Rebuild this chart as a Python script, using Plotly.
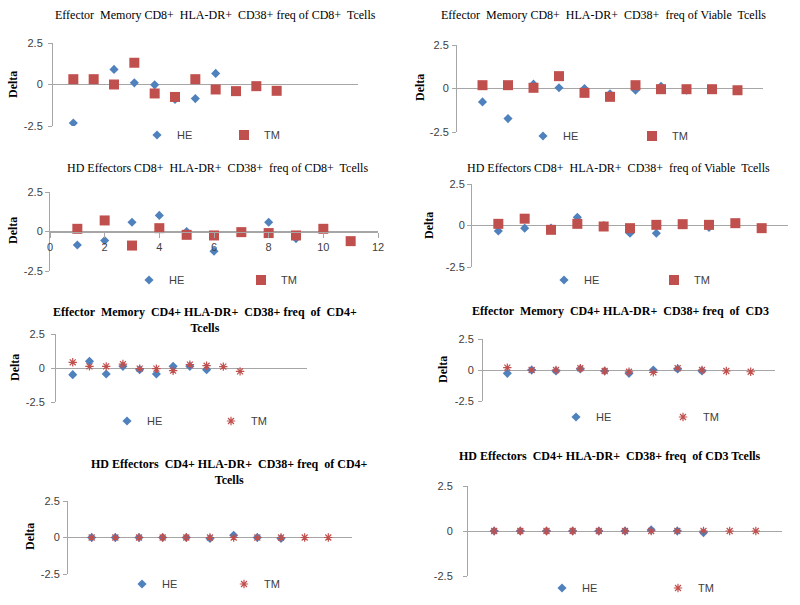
import plotly.graph_objects as go

W, H = 800, 605

# ---------------- data ----------------
he_samples = [1, 2, 3, 4, 5, 6, 7, 8, 9]
tm_samples = [1, 2, 3, 4, 5, 6, 7, 8, 9, 10, 11]

panel_titles = [
    "Effector\u00a0 Memory CD8+\u00a0 HLA-DR+\u00a0 CD38+ freq of CD8+\u00a0 Tcells",
    "Effector\u00a0 Memory CD8+\u00a0 HLA-DR+\u00a0 CD38+\u00a0 freq of Viable\u00a0 Tcells",
    "HD Effectors CD8+\u00a0 HLA-DR+\u00a0 CD38+\u00a0 freq of CD8+\u00a0 Tcells",
    "HD Effectors CD8+\u00a0 HLA-DR+\u00a0 CD38+\u00a0 freq of Viable\u00a0 Tcells",
    "<b>Effector\u00a0 Memory\u00a0 CD4+ HLA-DR+\u00a0 CD38+ freq\u00a0 of\u00a0 CD4+<br>Tcells</b>",
    "<b>Effector\u00a0 Memory\u00a0 CD4+ HLA-DR+\u00a0 CD38+ freq\u00a0 of\u00a0 CD3</b>",
    "<b>HD Effectors\u00a0 CD4+ HLA-DR+\u00a0 CD38+ freq\u00a0 of CD4+<br>Tcells</b>",
    "<b>HD Effectors\u00a0 CD4+ HLA-DR+\u00a0 CD38+ freq\u00a0 of CD3 Tcells</b>",
]
series_names = ["HE", "TM"]
y_tick_vals = [-2.5, 0, 2.5]
y_tick_text = ["-2.5", "0", "2.5"]
x_tick_vals_p3 = [0, 2, 4, 6, 8, 10, 12]

p1_he = [-2.32, 0.35, 0.91, 0.10, -0.02, -0.90, -0.85, 0.67, -0.40]
p1_tm = [0.32, 0.32, 0.00, 1.31, -0.54, -0.75, 0.32, -0.30, -0.40, -0.10, -0.38]

p2_he = [-0.77, -1.73, 0.25, 0.04, 0.00, -0.30, -0.10, 0.13, -0.10]
p2_tm = [0.19, 0.19, 0.04, 0.71, -0.25, -0.48, 0.19, -0.04, -0.04, -0.04, -0.10]

p3_he = [-0.85, -0.57, 0.59, 1.02, 0.00, -1.25, -0.04, 0.59, -0.45]
p3_tm = [0.17, 0.70, -0.89, 0.21, -0.21, -0.25, -0.04, -0.10, -0.25, 0.17, -0.61]

p4_he = [-0.33, -0.16, -0.15, 0.49, 0.00, -0.47, -0.47, 0.05, -0.12]
p4_tm = [0.10, 0.41, -0.26, 0.10, -0.06, -0.16, 0.04, 0.08, 0.04, 0.14, -0.16]

p5_he = [-0.49, 0.49, -0.44, 0.12, -0.12, -0.44, 0.12, 0.12, -0.12]
p5_tm = [0.42, 0.12, 0.12, 0.29, -0.05, -0.05, -0.20, 0.25, 0.17, 0.10, -0.25]

p6_he = [-0.27, 0.00, -0.08, 0.08, -0.08, -0.27, 0.00, 0.08, -0.08]
p6_tm = [0.19, 0.00, 0.00, 0.14, -0.08, -0.14, -0.19, 0.14, 0.00, -0.08, -0.14]

p7_he = [0.00, 0.00, 0.00, 0.00, 0.00, -0.07, 0.15, 0.00, -0.07]
p7_tm = [0.00, 0.00, 0.00, 0.00, 0.00, 0.00, 0.00, 0.00, 0.00, 0.00, 0.00]

p8_he = [0.00, 0.00, 0.00, 0.00, 0.00, 0.00, 0.06, 0.00, -0.09]
p8_tm = [0.00, 0.00, 0.00, 0.00, 0.00, 0.00, 0.00, 0.00, 0.00, 0.00, 0.00]

he_series = [p1_he, p2_he, p3_he, p4_he, p5_he, p6_he, p7_he, p8_he]
tm_series = [p1_tm, p2_tm, p3_tm, p4_tm, p5_tm, p6_tm, p7_tm, p8_tm]

# ---------------- layout (pixels) ----------------
# plot box: left, right, top(2.5), bottom(-2.5); x range max
panels = [
    dict(box=(53, 358, 43, 126), xmax=15, title=(215, 15), delta=(13, 85), leg=(163, 250, 135), stand=3),
    dict(box=(457, 763, 45, 132), xmax=12, title=(603, 15), delta=(420, 88), leg=(549, 658, 136), stand=1),
    dict(box=(50, 378, 192, 271), xmax=12, title=(217, 168), delta=(13, 231), leg=(155, 267, 280), stand=0),
    dict(box=(472, 788, 184, 267), xmax=12, title=(618, 168), delta=(429, 226), leg=(570, 680, 280), stand=0),
    dict(box=(56, 307, 334, 402), xmax=15, title=(205, 320), delta=(15, 368), leg=(133, 237, 421), stand=4),
    dict(box=(483, 775, 339, 401), xmax=12, title=(620, 311), delta=(443, 370), leg=(582, 689, 417), stand=2),
    dict(box=(68, 352, 501, 574), xmax=12, title=(230, 472), delta=(30, 537), leg=(148, 250, 584), stand=1),
    dict(box=(468, 782, 486, 576), xmax=12, title=(610, 456), delta=None, leg=(568, 684, 588), stand=8),
]

HE_COLOR = "#4F81BD"
TM_COLOR = "#C0504D"
GRID = "#A6A6A6"
SANS = "Liberation Sans"
SERIF = "Liberation Serif"


def px(xp):
    return xp / W


def py(yp):
    return 1 - yp / H


fig = go.Figure()
layout = dict(
    width=W, height=H, margin=dict(l=0, r=0, t=0, b=0, pad=0, autoexpand=False),
    paper_bgcolor="white", plot_bgcolor="white", annotations=[],
)

LEG_OFF = 26  # legend marker centre offset from legend box left (compromise with text gap)

for i, p in enumerate(panels):
    k = "" if i == 0 else str(i + 1)
    l, r, t, b = p["box"]
    star = i >= 4
    he_leg = "legend" if i == 0 else "legend%d" % (2 * i + 1)
    tm_leg = "legend%d" % (2 * i + 2)

    fig.add_trace(go.Scatter(
        x=he_samples, y=he_series[i], mode="markers", name=series_names[0],
        xaxis="x" + k, yaxis="y" + k, legend=he_leg,
        marker=dict(symbol="diamond", size=7, color=HE_COLOR),
    ))
    if star:
        tm_marker = dict(symbol="asterisk-open", size=7, color=TM_COLOR,
                         line=dict(color=TM_COLOR, width=1.2))
    else:
        tm_marker = dict(symbol="square", size=10, color=TM_COLOR)
    fig.add_trace(go.Scatter(
        x=tm_samples, y=tm_series[i], mode="markers", name=series_names[1],
        xaxis="x" + k, yaxis="y" + k, legend=tm_leg, marker=tm_marker,
    ))

    xa = dict(domain=[px(l), px(r)], range=[0, p["xmax"]], anchor="y" + k,
              showgrid=False, zeroline=False, fixedrange=True)
    if i == 2:
        zero_y = (t + b) / 2
        xa.update(visible=True, anchor="free", position=py(zero_y), showline=True,
                  linecolor=GRID, linewidth=1, ticks="outside", ticklen=5,
                  tickcolor=GRID, tickvals=x_tick_vals_p3,
                  tickfont=dict(family=SANS, size=11, color="#404040"))
    else:
        xa.update(visible=False)
    ya = dict(domain=[py(b), py(t)], range=[-2.5, 2.5], anchor="x" + k,
              tickvals=y_tick_vals, ticktext=y_tick_text, showgrid=True,
              gridcolor=GRID, gridwidth=1, zeroline=False, showline=True,
              linecolor=GRID, linewidth=1, ticks="outside", ticklen=4,
              tickcolor=GRID, ticklabelstandoff=p["stand"], fixedrange=True,
              tickfont=dict(family=SANS, size=11, color="#404040"))
    layout["xaxis" + k] = xa
    layout["yaxis" + k] = ya

    tx, ty = p["title"]
    layout["annotations"].append(dict(
        text=panel_titles[i], x=px(tx), y=py(ty), xref="paper", yref="paper",
        xanchor="center", yanchor="middle", showarrow=False,
        font=dict(family=SERIF, size=12, color="black"), align="center"))
    if p["delta"]:
        dx, dy = p["delta"]
        layout["annotations"].append(dict(
            text="<b>Delta</b>", x=px(dx), y=py(dy), xref="paper", yref="paper",
            xanchor="center", yanchor="middle", showarrow=False, textangle=-90,
            font=dict(family=SERIF, size=12, color="black")))

    hx, tmx, ly = p["leg"]
    for name, mx in ((he_leg, hx), (tm_leg, tmx)):
        layout[name] = dict(
            x=px(mx - LEG_OFF), y=py(ly), xanchor="left", yanchor="middle",
            orientation="h", bgcolor="rgba(0,0,0,0)", borderwidth=0,
            itemwidth=30, font=dict(family=SANS, size=11, color="#404040"))

layout["showlegend"] = True
fig.update_layout(**layout)
fig.write_html("out.html", config={"displayModeBar": False},
               post_script="document.body.style.margin='0px';")
